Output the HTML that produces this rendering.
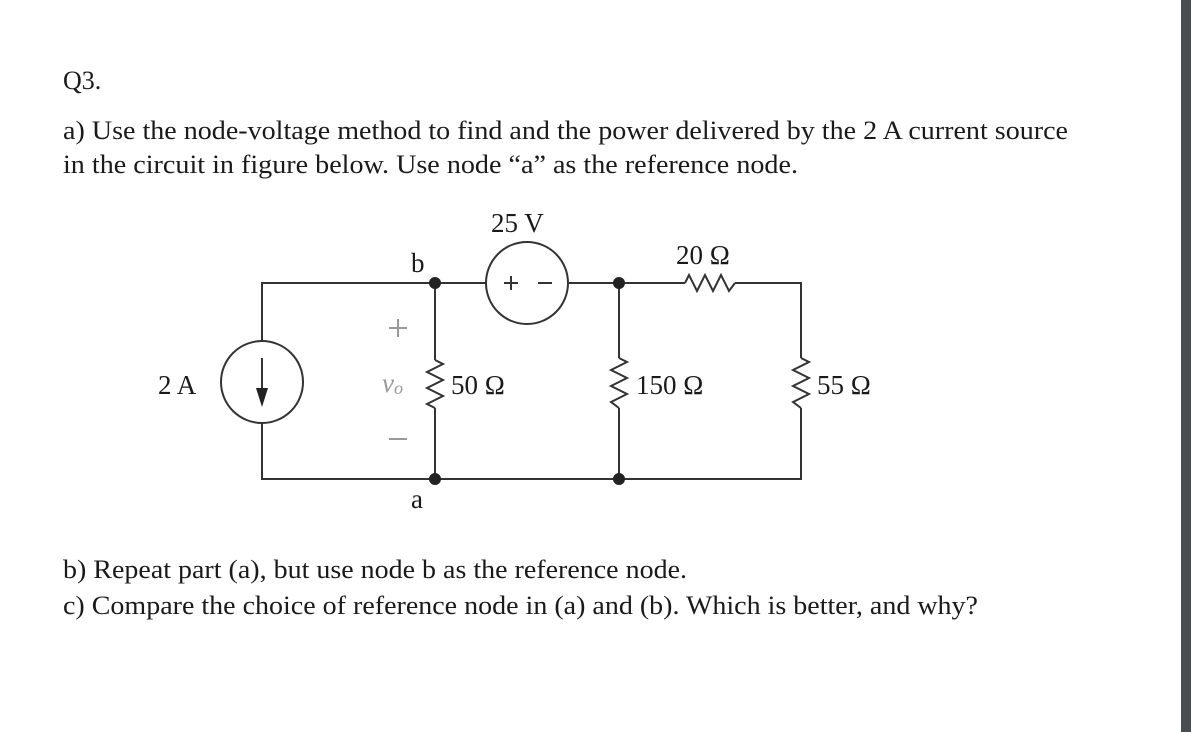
<!DOCTYPE html>
<html><head><meta charset="utf-8"><style>
html,body{margin:0;padding:0;background:#fff;}
svg{display:block;}
text{font-family:"Liberation Serif",serif;fill:#1a1a1a;}
</style></head><body>
<svg width="1191" height="732" viewBox="0 0 1191 732" xmlns="http://www.w3.org/2000/svg">
<rect x="1181" y="0" width="10" height="732" fill="#4a4d50"/>
<g font-size="26">
<text x="63" y="89">Q3.</text>
<text x="63" y="139" textLength="1005" lengthAdjust="spacingAndGlyphs">a) Use the node-voltage method to find and the power delivered by the 2 A current source</text>
<text x="63" y="173" textLength="735" lengthAdjust="spacingAndGlyphs">in the circuit in figure below. Use node “a” as the reference node.</text>
<text x="63" y="578" textLength="624" lengthAdjust="spacingAndGlyphs">b) Repeat part (a), but use node b as the reference node.</text>
<text x="63" y="614" textLength="915" lengthAdjust="spacingAndGlyphs">c) Compare the choice of reference node in (a) and (b). Which is better, and why?</text>
</g>
<g stroke="#333" stroke-width="2" fill="none">
<!-- wires -->
<polyline points="262,341 262,283 486,283"/>
<polyline points="568,283 685,283"/>
<polyline points="735,283 801,283 801,358"/>
<polyline points="801,408 801,479 262,479 262,423"/>
<line x1="435" y1="283" x2="435" y2="360"/>
<line x1="435" y1="408" x2="435" y2="479"/>
<line x1="619" y1="283" x2="619" y2="358"/>
<line x1="619" y1="408" x2="619" y2="479"/>
<!-- sources -->
<circle cx="262" cy="382" r="41"/>
<circle cx="527" cy="283" r="41"/>
<!-- resistors -->
<polyline points="435,360 443,364 427,372 443,380 427,388 443,396 427,404 435,408"/>
<polyline points="619,358 627,362 611,370 627,378 611,386 627,394 611,402 619,408"/>
<polyline points="801,358 809,362 793,370 809,378 793,386 809,394 793,402 801,408"/>
<polyline points="685,283 689,275 697,291 705,275 713,291 721,275 729,291 735,283"/>
<!-- arrow -->
<line x1="262" y1="358" x2="262" y2="390"/>
<!-- +/- in source -->
<line x1="504" y1="283" x2="518" y2="283"/>
<line x1="511" y1="276" x2="511" y2="290"/>
<line x1="538" y1="283" x2="552" y2="283"/>
</g>
<polygon points="256,388 268,388 262,407" fill="#222"/>
<g fill="#222">
<circle cx="435" cy="283" r="6"/><circle cx="619" cy="283" r="6"/>
<circle cx="435" cy="479" r="6"/><circle cx="619" cy="479" r="6"/>
</g>
<g stroke="#999" stroke-width="2">
<line x1="389" y1="328" x2="407" y2="328"/><line x1="398" y1="319" x2="398" y2="337"/>
<line x1="389" y1="439" x2="407" y2="439"/>
</g>
<g font-size="27">
<text x="491" y="232">25 V</text>
<text x="411" y="272">b</text>
<text x="676" y="264">20 Ω</text>
<text x="158" y="394">2 A</text>
<text x="451" y="394">50 Ω</text>
<text x="636" y="394">150 Ω</text>
<text x="817" y="394">55 Ω</text>
<text x="411" y="508">a</text>
<text x="382" y="392" font-style="italic" style="fill:#999">v<tspan font-size="18" dy="2">o</tspan></text>
</g>
</svg>
</body></html>
